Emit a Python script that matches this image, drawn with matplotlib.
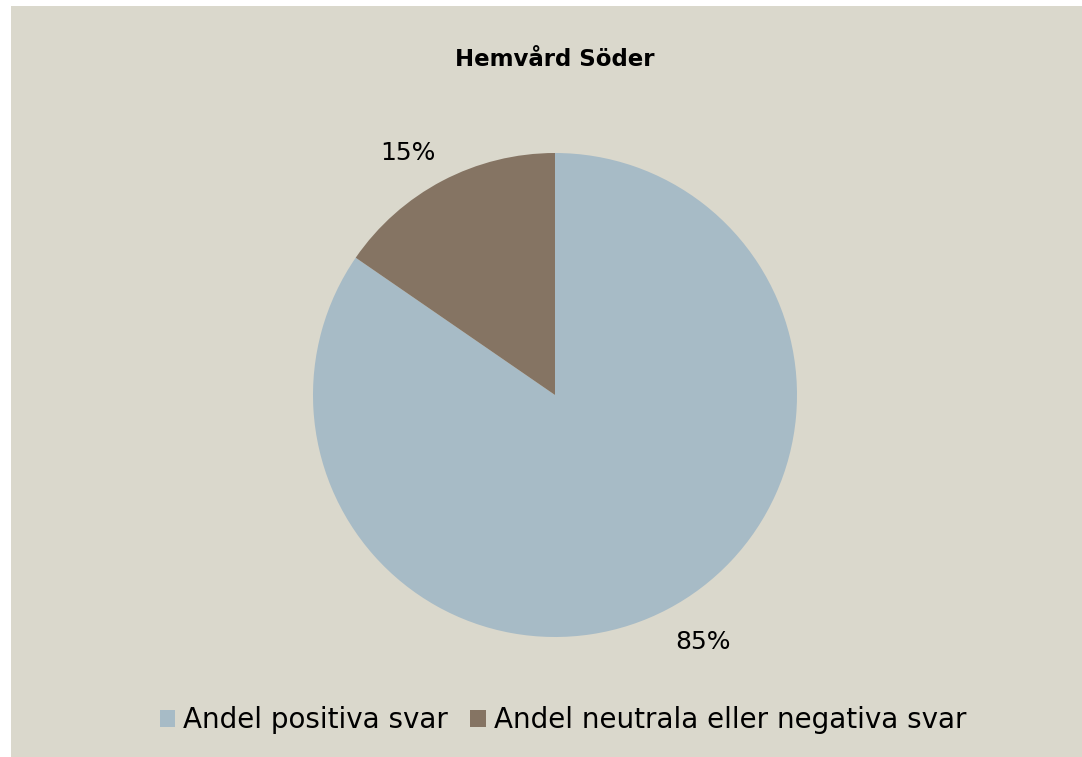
import matplotlib
matplotlib.use("Agg")
import matplotlib.pyplot as plt
from matplotlib.patches import Rectangle, Patch

# data
title = "Hemvård Söder"
categories = ["Andel positiva svar", "Andel neutrala eller negativa svar"]
values = [84.6, 15.4]
colors = ["#A7BBC6", "#857463"]
bg = "#DAD8CC"

W, H = 1082, 757
fig = plt.figure(figsize=(W / 100, H / 100), dpi=100, facecolor="white")

# beige chart area (small white margin at top and left)
fig.patches.append(Rectangle((11 / W, 0), 1 - 11 / W, 1 - 6 / H,
                             transform=fig.transFigure, facecolor=bg,
                             edgecolor="none", zorder=-5))

# pie: centre (555, 395) px, radius 242 px
cx, cy, r = 555, 395, 242
ax = fig.add_axes([(cx - r) / W, (H - cy - r) / H, 2 * r / W, 2 * r / H])
ax.set_facecolor("none")
wedges, _ = ax.pie(values, colors=colors, startangle=90, counterclock=False,
                   radius=1, wedgeprops=dict(linewidth=0))
ax.set_xlim(-1, 1)
ax.set_ylim(-1, 1)
ax.axis("off")

# percent labels (Excel-style placement)
label_pos = [(0.61, -1.02), (-0.607, 1.0)]
for v, (x, y) in zip(values, label_pos):
    ax.text(x, y, f"{round(v)}%", ha="center", va="center", fontsize=18,
            color="black", clip_on=False)

fig.text(cx / W, 1 - 60 / H, title, ha="center", va="center",
         fontsize=16.5, fontweight="bold")

handles = [Patch(facecolor=c, edgecolor="none") for c in colors]
fig.legend(handles, categories, loc="center", bbox_to_anchor=(563 / W, 1 - 720 / H),
           ncol=2, frameon=False, fontsize=20, handlelength=0.55, handleheight=0.55,
           handletextpad=0.3, columnspacing=0.8)

fig.savefig("out.png", dpi=100, facecolor="white")
